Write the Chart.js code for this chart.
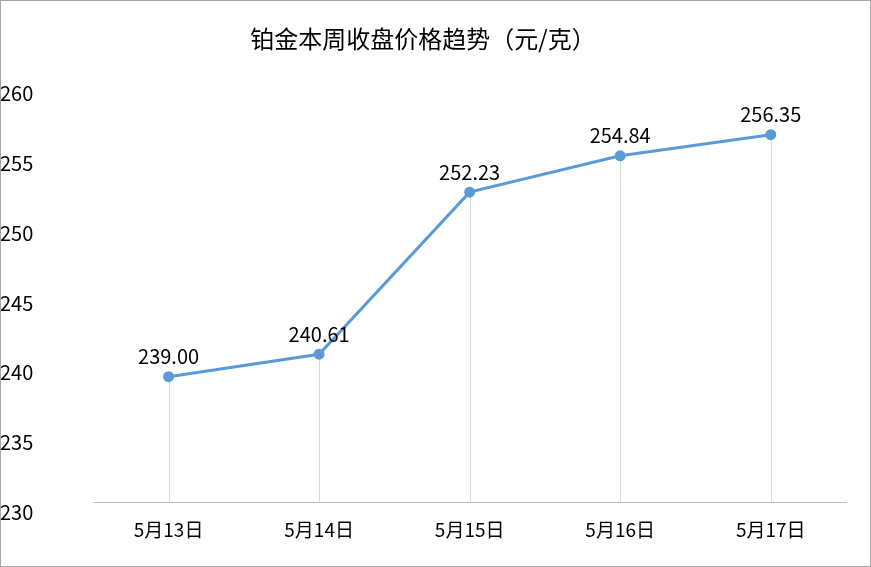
<!DOCTYPE html>
<html><head><meta charset="utf-8">
<script src="https://cdn.jsdelivr.net/npm/chart.js@4"></script>
<style>html,body{margin:0;padding:0;background:#fff}#w{width:871px;height:567px}</style>
</head><body><div id="w"><canvas id="c"></canvas></div>
<script>
const categories = ["5月13日","5月14日","5月15日","5月16日","5月17日"];
const prices = [239.00, 240.61, 252.23, 254.84, 256.35];
const titleText = "铂金本周收盘价格趋势（元/克）";
const FONT = "'Noto Sans CJK SC', 'Noto Sans', sans-serif";

const extras = {
  id: 'extras',
  beforeDatasetsDraw(chart) {
    const ctx = chart.ctx, meta = chart.getDatasetMeta(0), bottom = chart.chartArea.bottom;
    ctx.save(); ctx.strokeStyle = '#d9d9d9'; ctx.lineWidth = 1;
    meta.data.forEach(p => { ctx.beginPath(); ctx.moveTo(Math.round(p.x)+0.5, p.y); ctx.lineTo(Math.round(p.x)+0.5, bottom); ctx.stroke(); });
    ctx.restore();
  },
  afterDatasetsDraw(chart) {
    const ctx = chart.ctx, meta = chart.getDatasetMeta(0);
    ctx.save(); ctx.fillStyle = '#000'; ctx.font = '20px ' + FONT; ctx.textAlign = 'center'; ctx.textBaseline = 'bottom';
    meta.data.forEach((p, i) => ctx.fillText(prices[i].toFixed(2), p.x, p.y - 10));
    ctx.strokeStyle = '#a6a6a6'; ctx.lineWidth = 1; ctx.strokeRect(0.5, 0.5, chart.width - 1, chart.height - 1);
    ctx.restore();
  }
};

new Chart(document.getElementById('c'), {
  type: 'line',
  data: { labels: categories, datasets: [{ data: prices, borderColor: '#5b9bd5', backgroundColor: '#5b9bd5', borderWidth: 3, pointRadius: 4, pointBackgroundColor: '#5b9bd5', tension: 0 }] },
  options: {
    responsive: true, maintainAspectRatio: false, animation: false,
    layout: { padding: { top: 0, left: 0, right: 25, bottom: 10 } },
    plugins: {
      legend: { display: false }, tooltip: { enabled: false },
      title: { display: true, text: titleText, color: '#000', font: { family: FONT, size: 24, weight: 'normal' }, padding: { top: 24, bottom: 31 } }
    },
    scales: {
      x: { offset: true, grid: { display: false, drawTicks: false }, border: { color: '#bfbfbf', width: 1 },
           ticks: { color: '#000', font: { family: FONT, size: 19 }, padding: 16 } },
      y: { min: 230, max: 260, grid: { display: false, drawTicks: false }, border: { display: false },
           ticks: { stepSize: 5, color: '#000', font: { family: FONT, size: 20 }, padding: 30, align: 'start', crossAlign: 'far' } }
    }
  },
  plugins: [extras]
});
</script></body></html>
